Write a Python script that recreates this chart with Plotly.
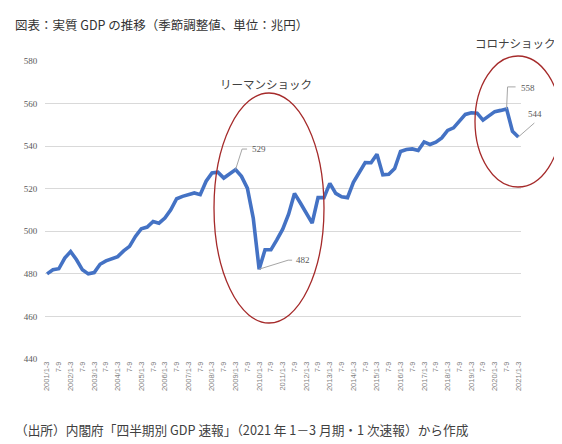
import plotly.graph_objects as go

# ---------------- data ----------------
years = list(range(2001, 2022))
quarter_names = ["1-3", "4-6", "7-9", "10-12"]
gdp = [480.0, 481.9, 482.4, 487.4, 490.5, 486.6, 481.9, 480.0, 480.6, 484.5,
       486.1, 487.0, 488.1, 490.8, 492.9, 497.6, 501.2, 502.0, 504.6, 503.8,
       506.2, 510.1, 515.3, 516.4, 517.2, 518.0, 517.2, 523.5, 527.4, 527.8,
       525.0, 527.0, 529.0, 525.8, 520.3, 506.2, 482.2, 491.3, 491.3, 496.0,
       501.0, 508.0, 517.8, 513.3, 508.5, 503.8, 515.8, 515.8, 522.5, 517.8,
       516.2, 515.8, 523.0, 528.0, 532.3, 532.2, 536.2, 526.5, 526.8, 529.5,
       537.5, 538.4, 538.7, 538.0, 542.0, 540.8, 541.9, 543.9, 547.4, 548.6,
       551.8, 554.9, 555.7, 555.5, 552.2, 554.1, 556.2, 556.8, 557.5, 547.0,
       544.3]
y_ticks = [440, 460, 480, 500, 520, 540, 560, 580]
callout_idx = [32, 36, 78, 80]

title_text = "図表：実質 GDP の推移（季節調整値、単位：兆円）"
source_text = "（出所）内閣府「四半期別 GDP 速報」（2021 年 1－3 月期・1 次速報）から作成"
lehman_text = "リーマンショック"
corona_text = "コロナショック"

# quarter labels
n = len(gdp)
x_idx = list(range(n))
q_labels = []
for i in x_idx:
    y = years[0] + i // 4
    q = quarter_names[i % 4]
    q_labels.append(f"{y}/{q}" if i % 4 == 0 else q)
tick_vals = [i for i in x_idx if i % 2 == 0]
tick_text = [q_labels[i] for i in tick_vals]

# ---------------- layout geometry ----------------
W, H = 562, 444
L, R, T, B = 37, 49, 53, 93
PW, PH = W - L - R, H - T - B
XR = [-0.35, n - 1 + 0.45]
YR = [y_ticks[0], y_ticks[-1]]


def data_px(i, v):
    x = L + (i - XR[0]) / (XR[1] - XR[0]) * PW
    y = T + (YR[1] - v) / (YR[1] - YR[0]) * PH
    return x, y


def paper(x, y):
    return (x - L) / PW, 1 - (y - T) / PH


fig = go.Figure()
fig.add_trace(go.Scatter(
    x=x_idx, y=gdp, mode="lines",
    line=dict(color="#4472C4", width=3.6),
    hoverinfo="skip", showlegend=False,
))

shapes = []
annotations = []

callout_style = {
    32: dict(path=[(6.5, -20.5), (11.5, -20.5)], tx=14, ty=-20.5, anchor="left"),
    36: dict(path=[(29, -9), (33, -9)], tx=35, ty=-9, anchor="left"),
    78: dict(path=[(1, -22), (9, -22)], tx=12, ty=-21, anchor="left"),
    80: dict(path=[(16, -14)], tx=17, ty=-23, anchor="center"),
}
for idx in callout_idx:
    st = callout_style[idx]
    px, py = data_px(idx, gdp[idx])
    pts = [(px, py)] + [(px + dx, py + dy) for dx, dy in st["path"]]
    pp = [paper(a, b) for a, b in pts]
    d = "M " + " L ".join(f"{a:.5f},{b:.5f}" for a, b in pp)
    shapes.append(dict(type="path", xref="paper", yref="paper", path=d,
                       line=dict(color="#a6a6a6", width=1)))
    ax, ay = paper(px + st["tx"], py + st["ty"])
    annotations.append(dict(
        x=ax, y=ay, xref="paper", yref="paper", text=f"{round(gdp[idx])}",
        showarrow=False, xanchor=st["anchor"], yanchor="middle",
        font=dict(size=9, color="#595959", family="Liberation Serif"),
    ))

# ellipses
for (x0, y0, x1, y1) in [(206, 85, 316, 315), (467, 48, 553, 179)]:
    a0, b0 = paper(x0, y1)
    a1, b1 = paper(x1, y0)
    shapes.append(dict(type="circle", xref="paper", yref="paper",
                       x0=a0, y0=b0, x1=a1, y1=b1,
                       line=dict(color="#A52A2A", width=1.3)))

# event labels
for txt, (cx, cy) in [(lehman_text, (258, 76)), (corona_text, (507, 35))]:
    a, b = paper(cx, cy)
    annotations.append(dict(
        x=a, y=b, xref="paper", yref="paper", text=txt, showarrow=False,
        xanchor="center", yanchor="middle",
        font=dict(size=11.5, color="#404040", family="Noto Sans CJK JP"),
    ))

# title and source
a, b = paper(5, 17)
annotations.append(dict(x=a, y=b, xref="paper", yref="paper", text=title_text,
                        showarrow=False, xanchor="left", yanchor="middle",
                        font=dict(size=12.5, color="#333333", family="Noto Sans CJK JP")))
a, b = paper(5, 421)
annotations.append(dict(x=a, y=b, xref="paper", yref="paper", text=source_text,
                        showarrow=False, xanchor="left", yanchor="middle",
                        font=dict(size=12.7, color="#404040", family="Noto Sans CJK JP")))

fig.update_layout(
    width=W, height=H,
    margin=dict(l=L, r=R, t=T, b=B, autoexpand=False),
    paper_bgcolor="white", plot_bgcolor="white",
    shapes=shapes, annotations=annotations,
    showlegend=False,
    xaxis=dict(range=XR, tickvals=tick_vals, ticktext=tick_text,
               tickangle=-90, showgrid=False, zeroline=False, showline=False,
               ticks="", tickfont=dict(size=7.5, color="#7f7f7f", family="Liberation Sans")),
    yaxis=dict(range=YR, tickvals=y_ticks, showgrid=True, gridcolor="#d9d9d9",
               gridwidth=1, zeroline=False, showline=False,
               ticks="outside", ticklen=5, tickcolor="rgba(0,0,0,0)",
               tickfont=dict(size=9, color="#595959", family="Liberation Serif")),
)

fig.write_html("out.html")
